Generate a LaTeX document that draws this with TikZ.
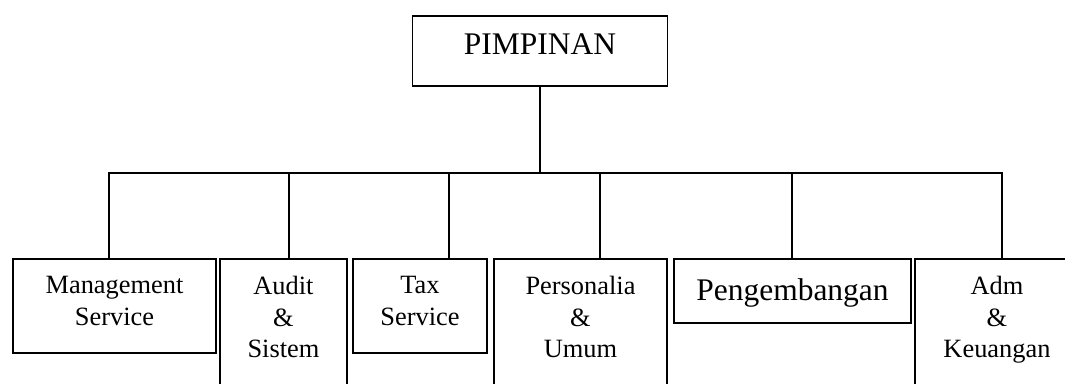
\documentclass[tikz,border=0pt]{standalone}
\usepackage{fontspec}
\setmainfont{Liberation Serif}
\begin{document}
\begin{tikzpicture}[
  x=0.75pt, y=-0.75pt,
  kotak/.style={draw, line width=1.35pt, inner sep=0pt, outer sep=0pt,
    anchor=north west},
  garis/.style={line width=1.35pt},
  isi/.style={anchor=north, align=center, inner sep=0pt, yshift=-12.75pt,
    font=\fontsize{19.8}{23.6}\selectfont},
  isibesar/.style={anchor=north, inner sep=0pt,
    font=\fontsize{23.6}{28}\selectfont}
]

  % Batas gambar
  \useasboundingbox (0,0) rectangle (1065,383);
  \clip (0,0) rectangle (1065,383);

  % Pimpinan
  \node[kotak, minimum width=191.25pt, minimum height=52.5pt,
    label={[isibesar, yshift=-13pt]north:PIMPINAN}]
    (pimpinan) at (412.5,16) {};

  % Bagian-bagian
  \node[kotak, minimum width=152.25pt, minimum height=70.5pt,
    label={[isi]north:{Management\\Service}}]
    (mgmt) at (13,259) {};

  \node[kotak, minimum width=95.25pt, minimum height=105pt,
    label={[isi]north:{Audit\\\&\\Sistem}}]
    (audit) at (220,259) {};

  \node[kotak, minimum width=100.5pt, minimum height=70.5pt,
    label={[isi]north:{Tax\\Service}}]
    (tax) at (353,259) {};

  \node[kotak, minimum width=129.75pt, minimum height=105pt,
    label={[isi]north:{Personalia\\\&\\Umum}}]
    (pers) at (494,259) {};

  \node[kotak, minimum width=177.75pt, minimum height=48pt,
    label={[isibesar, yshift=-14.6pt]north:Pengembangan}]
    (peng) at (674,259) {};

  \node[kotak, minimum width=123pt, minimum height=105pt,
    label={[isi]north:{Adm\\\&\\Keuangan}}]
    (adm) at (915,259) {};

  % Garis penghubung
  \foreach \xb/\nm in {109/mgmt, 289/audit, 449/tax, 600/pers,
                       792/peng, 1002/adm}
    \coordinate (bus-\nm) at (\xb,173);

  \draw[garis]
    (pimpinan.south) -- (pimpinan.south |- bus-mgmt);

  \draw[garis]
    (mgmt.north -| bus-mgmt) -- (bus-mgmt) -- (bus-adm)
    -- (adm.north -| bus-adm);

  \foreach \nm in {audit, tax, pers, peng}
    \draw[garis] (bus-\nm) -- (bus-\nm |- \nm.north);

\end{tikzpicture}
\end{document}
